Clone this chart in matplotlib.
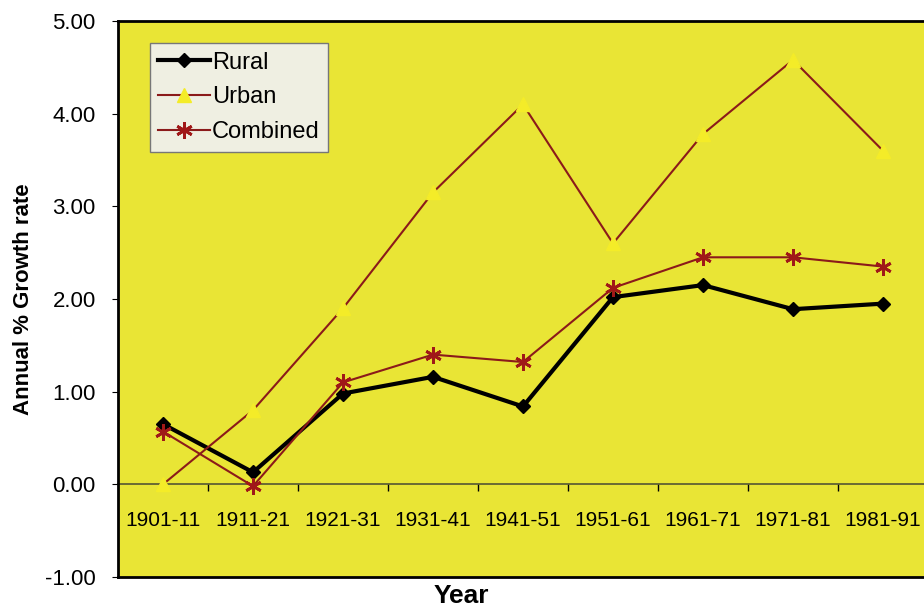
import matplotlib.pyplot as plt
import numpy as np

plt.rcParams['font.family'] = ['Liberation Sans', 'DejaVu Sans']

years = ['1901-11', '1911-21', '1921-31', '1931-41', '1941-51',
         '1951-61', '1961-71', '1971-81', '1981-91']
rural = [0.65, 0.13, 0.98, 1.16, 0.84, 2.02, 2.15, 1.89, 1.95]
urban = [0.00, 0.80, 1.90, 3.15, 4.10, 2.60, 3.78, 4.58, 3.60]
combined = [0.57, -0.02, 1.10, 1.40, 1.32, 2.12, 2.45, 2.45, 2.35]

x = np.arange(len(years))

fig = plt.figure(figsize=(9.24, 6.10), dpi=100)
ax = fig.add_axes([118 / 924, 33 / 610, 810 / 924, 556 / 610])
ax.set_facecolor('#e9e535')

ax.plot(x, rural, color='black', lw=3, marker='D', ms=7, mfc='black', label='Rural')
ax.plot(x, urban, color='#8b1a1a', lw=1.5, marker='^', ms=10, mfc='#f4ec28', mec='#f4ec28', label='Urban')
ax.plot(x, combined, color='#8b1a1a', lw=1.5, marker=(6, 2, 0), ms=12, mew=2, mec='#a01818', label='Combined')

ax.set_xlim(-0.5, len(years) - 0.5)
ax.set_ylim(-1, 5)
ax.set_yticks(np.arange(-1, 6, 1))
ax.set_yticklabels(['%.2f' % v for v in np.arange(-1, 6, 1)], fontsize=16)
ax.tick_params(axis='y', length=4, pad=12)
ax.set_xticks([])

for s in ['top', 'left', 'bottom']:
    ax.spines[s].set_linewidth(2)
ax.spines['right'].set_visible(False)

# category axis sits on the zero line
sec = ax.secondary_xaxis(1 / 6)
sec.set_xticks(x)
sec.set_xticklabels(years, fontsize=15)
sec.set_xticks(np.arange(0.5, len(years) - 0.5, 1), minor=True)
sec.tick_params(axis='x', which='major', length=0, pad=19)
sec.tick_params(axis='x', which='minor', length=5, width=1, direction='out')
sec.spines['bottom'].set_linewidth(1.2)
sec.spines['bottom'].set_color('#555533')

ax.set_ylabel('Annual % Growth rate', fontsize=16, fontweight='bold', labelpad=8)
ax.set_xlabel('Year', fontsize=19, fontweight='bold', labelpad=0)
ax.xaxis.set_label_coords((461 - 118) / 810, -0.012)

leg = ax.legend(loc='upper left', bbox_to_anchor=(0.039, 0.96), fontsize=17,
                frameon=True, fancybox=False, handlelength=2.2, handletextpad=0.1,
                borderpad=0.35, labelspacing=0.55, borderaxespad=0)
leg.get_frame().set_facecolor('#efefe2')
leg.get_frame().set_edgecolor('#777777')
leg.get_frame().set_alpha(1)

fig.savefig('out.png', dpi=100)
